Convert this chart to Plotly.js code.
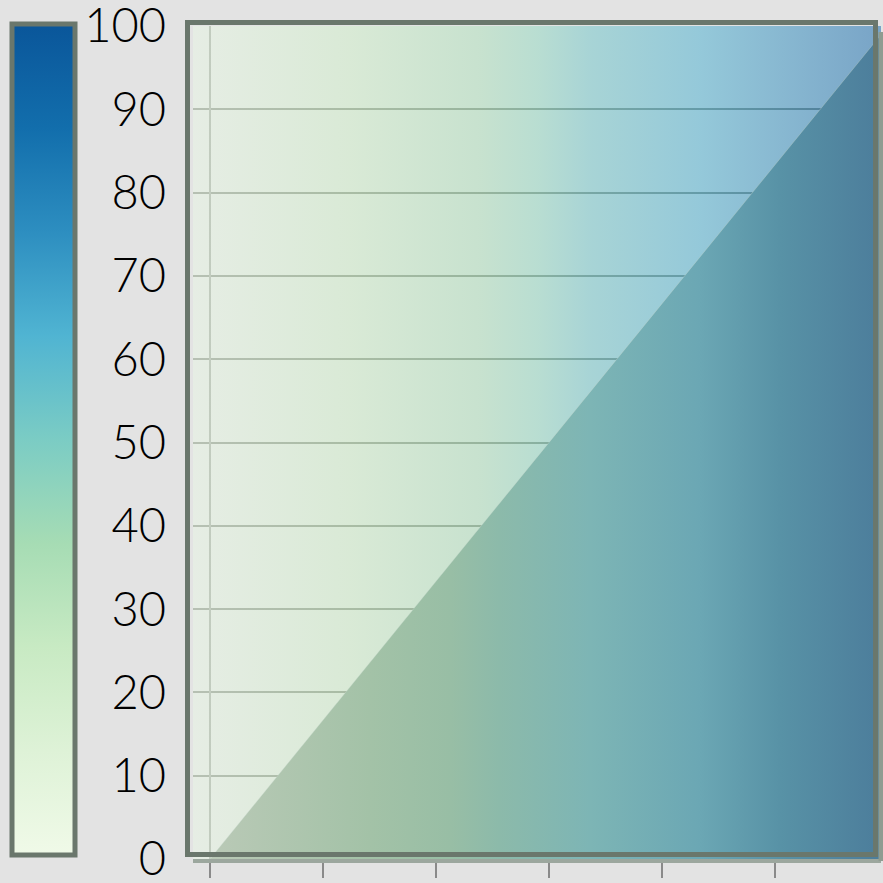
<!DOCTYPE html>
<html>
<head>
<meta charset="utf-8">
<script src="https://cdn.plot.ly/plotly-3.0.1.min.js"></script>
<style>
  html, body { margin: 0; padding: 0; background: #e3e3e3; }
  #chart { width: 883px; height: 883px; }
</style>
</head>
<body>
<div id="chart"></div>
<script>
// ---- data ----
const lineX = [0, 6];          // diagonal series, x
const lineY = [0, 100];        // diagonal series, y
const bandX = [-0.2, 6.2];     // full-height background band, x
const bandY = [100, 100];      // full-height background band, y
const scaleValues = [0, 100];  // value range shown by the colour bar
const yTickVals = [0, 10, 20, 30, 40, 50, 60, 70, 80, 90, 100];
const yTickText = ['0', '10', '20', '30', '40', '50', '60', '70', '80', '90', '100'];

// ---- geometry of the plotting area (pixels) ----
const W = 883, H = 883;
const L = 193, R = 881, T = 26, B = 859;
const xRange = [-0.1504, 5.938];
const yRange = [0, 100];
const px = v => (v - L) / (R - L);          // pixel x -> paper x
const py = v => (B - v) / (B - T);          // pixel y -> paper y

// GnBu colour scale for the colour bar
const gnbu = [
  [0.0, 'rgb(240,250,232)'],
  [0.125, 'rgb(222,242,215)'],
  [0.25, 'rgb(200,234,195)'],
  [0.375, 'rgb(166,220,180)'],
  [0.5, 'rgb(123,204,196)'],
  [0.625, 'rgb(80,180,210)'],
  [0.75, 'rgb(45,142,192)'],
  [0.875, 'rgb(18,110,172)'],
  [1.0, 'rgb(10,86,154)']
];

// translucent gradient behind the diagonal (lets the grid show through)
const bandScale = [
  [0.0, 'rgba(232,244,229,0.6)'],
  [0.23, 'rgba(210,238,205,0.6)'],
  [0.417, 'rgba(181,225,193,0.6)'],
  [0.5, 'rgba(157,218,198,0.6)'],
  [0.577, 'rgba(128,202,205,0.6)'],
  [0.737, 'rgba(96,183,211,0.6)'],
  [1.0, 'rgba(50,122,180,0.6)']
];

// opaque, darker gradient under the diagonal
const areaScale = [
  [0.0, 'rgb(188,202,184)'],
  [0.257, 'rgb(163,194,167)'],
  [0.374, 'rgb(152,190,165)'],
  [0.445, 'rgb(140,186,170)'],
  [0.577, 'rgb(125,181,181)'],
  [0.737, 'rgb(107,167,180)'],
  [0.853, 'rgb(88,146,166)'],
  [1.0, 'rgb(76,125,155)']
];

const traces = [
  {
    type: 'scatter', mode: 'lines',
    x: bandX, y: bandY,
    line: { width: 0 },
    fill: 'tozeroy',
    fillgradient: { type: 'horizontal', colorscale: bandScale, start: xRange[0], stop: xRange[1] },
    hoverinfo: 'skip', showlegend: false
  },
  {
    type: 'scatter', mode: 'lines',
    x: lineX, y: lineY,
    line: { width: 0.6, color: 'rgba(200,215,205,0.6)' },
    fill: 'tozeroy',
    fillgradient: { type: 'horizontal', colorscale: areaScale, start: xRange[0], stop: xRange[1] },
    hoverinfo: 'skip', showlegend: false
  },
  {
    type: 'scatter', mode: 'markers',
    x: [0, 0], y: [0, 0],
    marker: {
      color: scaleValues, cmin: scaleValues[0], cmax: scaleValues[1],
      colorscale: gnbu, opacity: 0, size: 1, showscale: true,
      colorbar: {
        xref: 'paper', yref: 'paper',
        x: px(12.5), xanchor: 'left',
        y: py(854.5), yanchor: 'bottom',
        lenmode: 'pixels', len: 831,
        thicknessmode: 'pixels', thickness: 63,
        xpad: 0, ypad: 0,
        outlinewidth: 5, outlinecolor: '#6a776c',
        borderwidth: 0,
        ticks: '', showticklabels: false
      }
    },
    hoverinfo: 'skip', showlegend: false
  }
];

const layout = {
  width: W, height: H,
  margin: { l: L, r: W - R, t: T, b: H - B, pad: 0 },
  paper_bgcolor: '#e3e3e3',
  plot_bgcolor: '#e3e3e3',
  showlegend: false,
  xaxis: {
    range: xRange, autorange: false,
    tick0: 0, dtick: 1,
    showgrid: false,
    zeroline: true, zerolinecolor: '#8c9089', zerolinewidth: 2,
    showline: true, linecolor: '#9ca79e', linewidth: 4,
    ticks: 'outside', ticklen: 15, tickwidth: 2, tickcolor: '#8a8a8a',
    showticklabels: false, fixedrange: true
  },
  yaxis: {
    range: yRange, autorange: false,
    tickvals: yTickVals, ticktext: yTickText,
    showgrid: true, gridcolor: '#6c7268', gridwidth: 2,
    zeroline: false, showline: false,
    ticks: '', ticklabelstandoff: 26, ticklabeloverflow: 'allow',
    tickfont: { family: 'Lato, "DejaVu Sans", sans-serif', size: 47, weight: 300, color: '#000000' },
    fixedrange: true
  },
  shapes: [
    // soft edge along the right of the plotting area
    { type: 'line', xref: 'paper', yref: 'paper',
      x0: 1, x1: 1, y0: py(32), y1: py(861),
      line: { color: '#8e9c91', width: 5 }, layer: 'above' },
    // frame around the plotting area
    { type: 'rect', xref: 'paper', yref: 'paper',
      x0: px(187.5), x1: px(875.5), y0: py(854.5), y1: py(22.5),
      line: { color: '#6a776c', width: 5 }, fillcolor: 'rgba(0,0,0,0)', layer: 'above' }
  ]
};

Plotly.newPlot('chart', traces, layout, { staticPlot: true, displayModeBar: false });
</script>
</body>
</html>
